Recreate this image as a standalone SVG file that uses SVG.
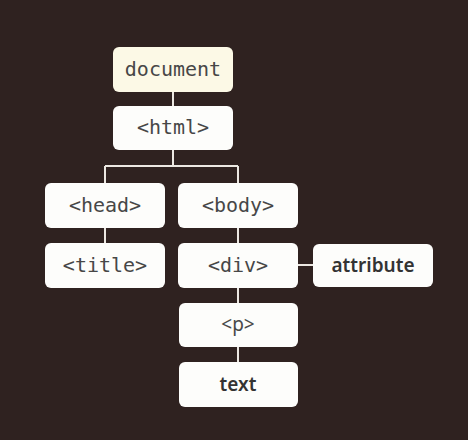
<svg xmlns="http://www.w3.org/2000/svg" width="468" height="440" viewBox="0 0 468 440">
<style>
.bg{fill:#2f2220}
.box{fill:#fdfdfb;stroke:none}
.doc{fill:#fcf9e6}
.mono{font-family:"DejaVu Sans Mono","Liberation Mono",monospace;font-size:20px;fill:#474747;text-anchor:middle;dominant-baseline:central}
.sans{font-family:"Noto Sans","Liberation Sans",sans-serif;font-size:19px;fill:#4a4a4a;text-anchor:middle;dominant-baseline:central}
.bold{font-weight:600;fill:#333333}
.conn line,.conn path{stroke:#ece8e2;stroke-width:2;fill:none}
</style>
<rect class="bg" x="0" y="0" width="468" height="440"/>
<g class="conn" id="connectors">
<line x1="173" y1="92" x2="173" y2="106"/>
<path d="M173 150 V166 M105 166 H238 M105 166 V183 M238 166 V183"/>
<line x1="105" y1="228" x2="105" y2="243"/>
<line x1="238" y1="228" x2="238" y2="243"/>
<line x1="298" y1="265" x2="313" y2="265"/>
<line x1="238" y1="288" x2="238" y2="303"/>
<line x1="238" y1="347" x2="238" y2="362"/>
</g>
<g id="document"><rect class="box doc" x="113" y="47" width="120" height="45" rx="6"/><text class="mono" x="173" y="69">document</text></g>
<g id="html"><rect class="box" x="113" y="106" width="120" height="44" rx="6"/><text class="mono" x="173" y="127">&lt;html&gt;</text></g>
<g id="head"><rect class="box" x="45" y="183" width="120" height="45" rx="6"/><text class="mono" x="105" y="205">&lt;head&gt;</text></g>
<g id="body"><rect class="box" x="178" y="183" width="120" height="45" rx="6"/><text class="mono" x="238" y="205">&lt;body&gt;</text></g>
<g id="title"><rect class="box" x="45" y="243" width="120" height="45" rx="6"/><text class="mono" x="105" y="265">&lt;title&gt;</text></g>
<g id="div"><rect class="box" x="178" y="243" width="120" height="45" rx="6"/><text class="mono" x="238" y="265">&lt;div&gt;</text></g>
<g id="attribute"><rect class="box" x="313" y="244" width="120" height="43" rx="6"/><text class="sans bold" x="373" y="265">attribute</text></g>
<g id="p"><rect class="box" x="179" y="303" width="119" height="44" rx="6"/><text class="sans" x="238" y="324">&lt;p&gt;</text></g>
<g id="text"><rect class="box" x="179" y="362" width="119" height="45" rx="6"/><text class="sans bold" x="238" y="384">text</text></g>
</svg>
